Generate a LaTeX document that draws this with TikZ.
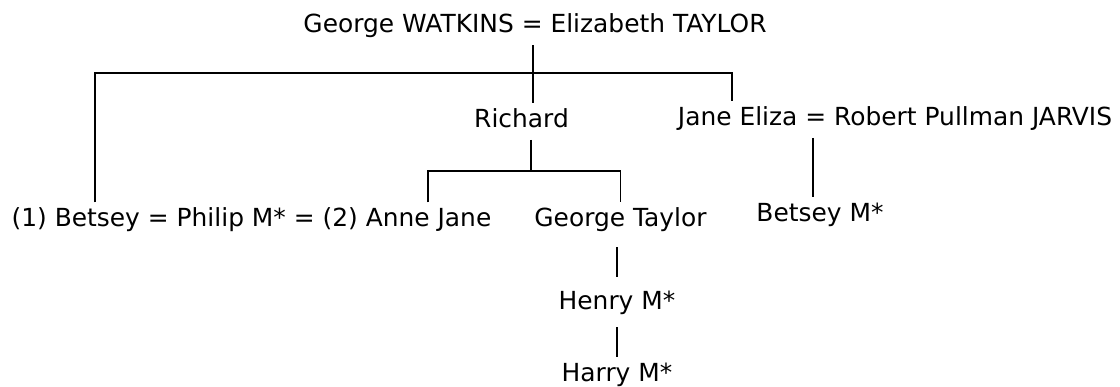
\documentclass[tikz,border=0pt]{standalone}
\usepackage{fontspec}
\setmainfont{DejaVu Sans}
\usetikzlibrary{positioning}
\tikzstyle{person}=[anchor=base, inner sep=6pt, text height=18.5pt, text depth=6.2pt,
font=\fontsize{24.9}{30}\selectfont]
\tikzstyle{line}=[line width=1.2pt]

\begin{document}
\begin{tikzpicture}[x=1pt,y=-1pt]
\useasboundingbox (0,0) rectangle (1120,387);
\node[person](couple1)at (535,33){George WATKINS = Elizabeth TAYLOR};

\node[person](richard)at (521.5,127.5){Richard};
\node[person](couple2)at (895,125.5){Jane Eliza = Robert Pullman JARVIS};

\node[person](couple3)at (251.5,227){(1) Betsey = Philip M* = (2) Anne Jane};
\node[person](georget)at (620.5,227){George Taylor};
\node[person](betseym)at (820,222){Betsey M*};

\node[person](henry)at (617,310){Henry M*};
\node[person](harry)at (617,382){Harry M*};

\coordinate (kids1) at (533,73);
\coordinate (kids2) at (531,171);
\coordinate (betsey) at (95,0);
\coordinate (anne) at (428,0);
\coordinate (jane) at (732,0);
\coordinate (kids3) at (813,0);

\draw [line](kids1 |- couple1.south) -- (kids1 |- richard.north);
\draw [line](betsey |- couple3.north) |- (jane |- kids1) -- (jane |- couple2.north);

\draw [line](kids2 |- richard.south) -- (kids2);
\draw [line](anne |- couple3.north) |- (kids2) -| (georget.north);

\draw [line](kids3 |- couple2.south) -- (kids3 |- betseym.north);

\draw [line,shorten <=8pt,shorten >=8pt](henry.north |- georget.south) -- (henry.north);
\draw [line,shorten <=5pt](henry.south) -- (harry.north);
\end{tikzpicture}
\end{document}
